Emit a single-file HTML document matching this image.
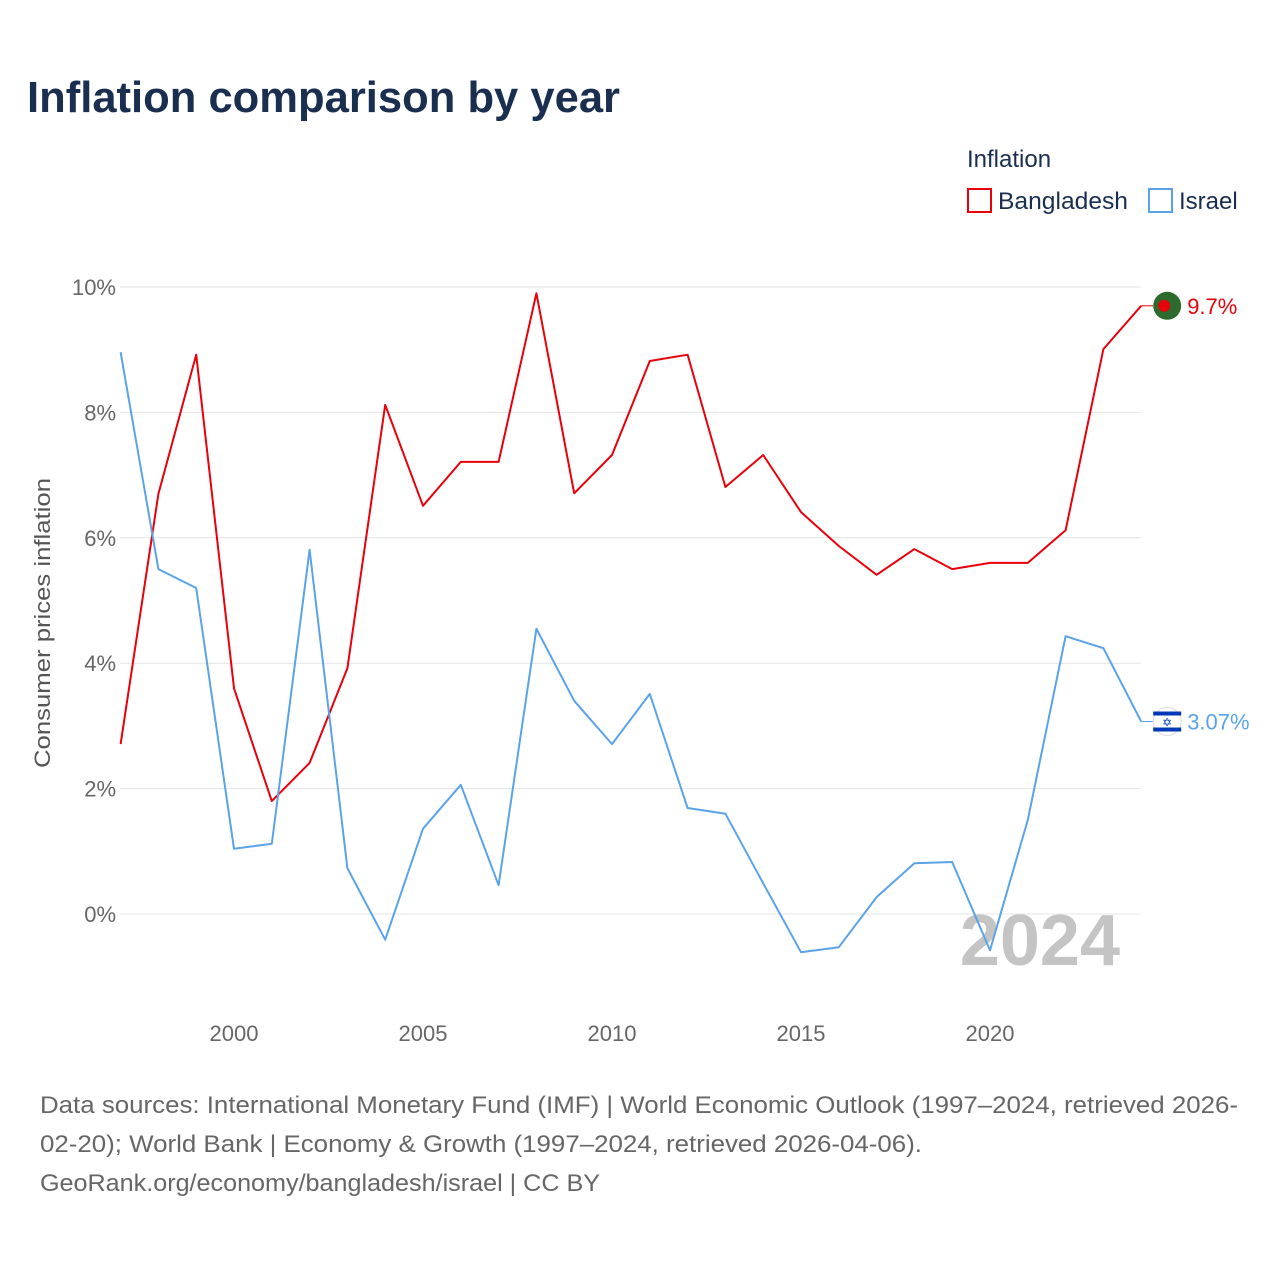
<!DOCTYPE html>
<html><head><meta charset="utf-8">
<style>
body{margin:0;background:#fff;font-family:"Liberation Sans",sans-serif;}
#wrap{position:relative;width:1280px;height:1280px;overflow:hidden;}
</style></head>
<body>
<div id="wrap">
<svg id="chart" width="1280" height="1280" xmlns="http://www.w3.org/2000/svg">
<text x="27" y="112" font-size="44" font-weight="bold" fill="#1a2e50" textLength="593" lengthAdjust="spacingAndGlyphs">Inflation comparison by year</text>
<text x="967" y="167" font-size="24" fill="#1a2e50">Inflation</text>
<g>
<rect x="968" y="189" width="23" height="23" fill="none" stroke="#e8000b" stroke-width="2"/>
<text x="998" y="209" font-size="24" fill="#1a2e50" textLength="130" lengthAdjust="spacingAndGlyphs">Bangladesh</text></g>
<g>
<rect x="1149" y="189" width="23" height="23" fill="none" stroke="#5ba3e8" stroke-width="2"/>
<text x="1179" y="209" font-size="24" fill="#1a2e50">Israel</text></g>
<text transform="translate(50,623) rotate(-90)" text-anchor="middle" font-size="22" fill="#555" textLength="290" lengthAdjust="spacingAndGlyphs">Consumer prices inflation</text>
<text x="1120" y="965" text-anchor="end" font-size="72" font-weight="bold" fill="#c4c4c4">2024</text>
<g id="grid"></g><g id="xt"></g><g id="series"></g>
<text x="40" y="1113" font-size="24" fill="#666" textLength="1198" lengthAdjust="spacingAndGlyphs">Data sources: International Monetary Fund (IMF) | World Economic Outlook (1997–2024, retrieved 2026-</text>
<text x="40" y="1152" font-size="24" fill="#666" textLength="882" lengthAdjust="spacingAndGlyphs">02-20); World Bank | Economy &amp; Growth (1997–2024, retrieved 2026-04-06).</text>
<text x="40" y="1191" font-size="24" fill="#666" textLength="560" lengthAdjust="spacingAndGlyphs">GeoRank.org/economy/bangladesh/israel | CC BY</text>
</svg>
</div>
<script>
const years=[1997,1998,1999,2000,2001,2002,2003,2004,2005,2006,2007,2008,2009,2010,2011,2012,2013,2014,2015,2016,2017,2018,2019,2020,2021,2022,2023,2024];
const bangladesh=[2.71,6.70,8.92,3.60,1.80,2.41,3.92,8.12,6.51,7.21,7.21,9.90,6.71,7.32,8.82,8.92,6.81,7.32,6.41,5.87,5.41,5.82,5.50,5.60,5.60,6.12,9.01,9.7];
const israel=[8.96,5.50,5.20,1.04,1.12,5.81,0.73,-0.41,1.36,2.06,0.46,4.55,3.40,2.71,3.51,1.69,1.60,0.49,-0.61,-0.53,0.27,0.81,0.83,-0.58,1.50,4.43,4.24,3.07];
const yTicks=[0,2,4,6,8,10];
const xTicks=[2000,2005,2010,2015,2020];
const NS="http://www.w3.org/2000/svg";
const xS=y=>120.6+(y-1997)*37.8;
const yS=v=>914-v*62.7;
function mk(t,a,p){const e=document.createElementNS(NS,t);for(const k in a)e.setAttribute(k,a[k]);p.appendChild(e);return e;}
const grid=document.getElementById('grid');
yTicks.forEach(v=>{
 const l=mk('line',{x1:120,x2:1141,y1:yS(v),y2:yS(v),stroke:'#e4e4e4','stroke-width':1},grid);
 
 
 const t=mk('text',{x:116,y:yS(v)+8,'text-anchor':'end','font-size':22,fill:'#666'},grid);
 t.textContent=v+'%';
 
 
});
const xt=document.getElementById('xt');
xTicks.forEach(y=>{
 const t=mk('text',{x:xS(y),y:1041,'text-anchor':'middle','font-size':22,fill:'#666'},xt);
 t.textContent=y;
 
 
});
const S=document.getElementById('series');
function series(vals,color,name,label){
 const d=vals.map((v,i)=>(i?'L':'M')+xS(years[i]).toFixed(1)+','+yS(v).toFixed(1)).join(' ');
 const p=mk('path',{d:d,fill:'none',stroke:color,'stroke-width':2,'stroke-linejoin':'round'},S);
 
 
 const last=vals[vals.length-1],ly=yS(last),lx=xS(years[years.length-1]);
 mk('line',{x1:lx,x2:lx+12,y1:ly,y2:ly,stroke:color,'stroke-width':1},S);
 const m=mk('g',{},S);
 
 
 if(name==='bangladesh'){
  mk('circle',{cx:lx+26,cy:ly,r:14,fill:'#2d6a2d'},m);
  mk('circle',{cx:lx+23,cy:ly,r:6,fill:'#e8000b'},m);
 }else{
  mk('circle',{cx:lx+26,cy:ly,r:14,fill:'#fff',stroke:'#ddd'},m);
  mk('rect',{x:lx+12,y:ly-10,width:28,height:4,fill:'#0038b8'},m);
  mk('rect',{x:lx+12,y:ly+6,width:28,height:4,fill:'#0038b8'},m);
  const st=mk('text',{x:lx+26,y:ly+5,'text-anchor':'middle','font-size':12,fill:'#0038b8'},m);st.textContent='✡';
 }
 const t=mk('text',{x:lx+46,y:ly+8,'font-size':22,fill:color},S);
 t.textContent=label;
 
 
}
series(bangladesh,'#e8000b','bangladesh','9.7%');
series(israel,'#5ba3e8','israel','3.07%');
</script>
</body></html>
